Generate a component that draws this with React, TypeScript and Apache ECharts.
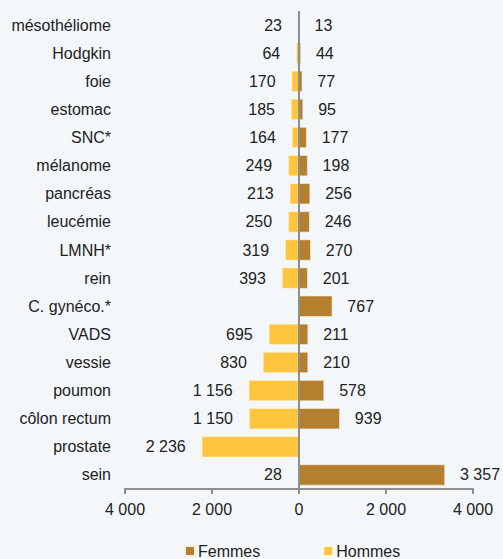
import React, { useEffect, useRef } from "react";
import * as echarts from "echarts";

const categories = [
  "mésothéliome", "Hodgkin", "foie", "estomac", "SNC*", "mélanome", "pancréas",
  "leucémie", "LMNH*", "rein", "C. gynéco.*", "VADS", "vessie", "poumon",
  "côlon rectum", "prostate", "sein",
];
const hommes: (number | null)[] = [23, 64, 170, 185, 164, 249, 213, 250, 319, 393, null, 695, 830, 1156, 1150, 2236, 28];
const femmes: (number | null)[] = [13, 44, 77, 95, 177, 198, 256, 246, 270, 201, 767, 211, 210, 578, 939, null, 3357];
const xTicks = { min: -4000, max: 4000, interval: 2000 };

const FONT = "'Liberation Sans', Arial, Helvetica, sans-serif";
const fmt = (v: number) => String(Math.abs(Math.round(v))).replace(/\B(?=(\d{3})+(?!\d))/g, " ");

export default function App() {
  const ref = useRef<HTMLDivElement>(null);
  useEffect(() => {
    if (!ref.current) return;
    const chart = echarts.init(ref.current, undefined, { renderer: "svg" });
    chart.setOption({
      animation: false,
      backgroundColor: "#f3f7f9",
      textStyle: { fontFamily: FONT },
      grid: { left: 125, right: 30, top: 11, bottom: 70 },
      legend: {
        data: ["Femmes", "Hommes"],
        left: 184,
        top: 543,
        padding: 0,
        icon: "rect",
        itemWidth: 10,
        itemHeight: 10,
        itemGap: 62,
        textStyle: { fontFamily: FONT, fontSize: 16, color: "#222", padding: [0, 0, 0, -2] },
      },
      xAxis: {
        type: "value",
        min: xTicks.min,
        max: xTicks.max,
        interval: xTicks.interval,
        splitLine: { show: false },
        axisLine: { show: true, lineStyle: { color: "#8e8e8e", width: 2 } },
        axisTick: { show: true, length: 5, lineStyle: { color: "#8e8e8e", width: 2 } },
        axisLabel: { fontFamily: FONT, fontSize: 16, color: "#222", margin: 12, formatter: (v: number) => fmt(v) },
      },
      yAxis: {
        type: "category",
        data: categories,
        inverse: true,
        axisLine: { show: false },
        axisTick: { show: false },
        axisLabel: { fontFamily: FONT, fontSize: 16, color: "#222", margin: 14 },
      },
      series: [
        {
          name: "Femmes",
          type: "bar",
          stack: "t",
          barWidth: 21,
          data: femmes,
          itemStyle: { color: "#b47f2f", borderColor: "#f6efe0", borderWidth: 0.6 },
          label: {
            show: true,
            position: "right",
            distance: 15,
            fontFamily: FONT,
            fontSize: 16,
            color: "#222",
            formatter: (p: any) => (p.value == null ? "" : fmt(p.value)),
          },
          markLine: {
            silent: true,
            symbol: "none",
            label: { show: false },
            lineStyle: { color: "#8e8e8e", width: 2, type: "solid" },
            data: [{ xAxis: 0 }],
            z: 10,
          },
          z: 2,
        },
        {
          name: "Hommes",
          type: "bar",
          stack: "t",
          barWidth: 21,
          data: hommes.map((v) => (v == null ? null : -v)),
          itemStyle: { color: "#ffc53e", borderColor: "#fff6dc", borderWidth: 0.6 },
          label: {
            show: true,
            position: "left",
            distance: 16,
            fontFamily: FONT,
            fontSize: 16,
            color: "#222",
            formatter: (p: any) => (p.value == null ? "" : fmt(p.value)),
          },
          z: 2,
        },
      ],
    });
    return () => chart.dispose();
  }, []);
  return <div ref={ref} style={{ width: 503, height: 559, position: "absolute", left: 0, top: 0 }} />;
}
